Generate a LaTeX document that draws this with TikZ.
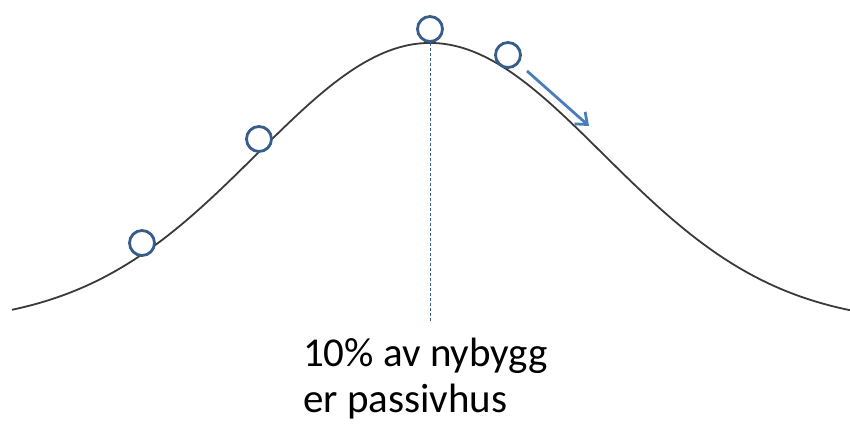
\documentclass[tikz,border=0pt]{standalone}
\usepackage{fontspec}
\setmainfont{Carlito}
\usepackage{tikz}
\usetikzlibrary{arrows.meta}

\definecolor{ballblue}{HTML}{385D8A}
\definecolor{arrowblue}{HTML}{4A7EBB}
\definecolor{curvegray}{HTML}{3A3A3A}

\begin{document}
\begin{tikzpicture}[x=1pt,y=-1pt,
    ball/.style={circle,draw=ballblue,line width=2.8pt,fill=white,minimum size=25pt,inner sep=0pt},
    bell/.style={curvegray,line width=1.8pt},
    push/.style={arrowblue,line width=2.8pt,-{Straight Barb[length=10pt,width=16pt]}},
    mid/.style={ballblue,line width=0.8pt,dash pattern=on 3pt off 2pt}]
    \useasboundingbox (0,0) rectangle (850,425);

    % the curve
    \draw[bell] plot[domain=12:850,samples=120,smooth]
        ({\x},{325-282*exp(-0.5*((\x-430)/173)^2)});

    % middle of the curve
    \coordinate (top) at (430,43);
    \coordinate (foot) at (430,322);
    \draw[mid] (top) -- (foot);

    % the balls
    \node[ball] (b1) at (142,243) {};
    \node[ball] (b2) at (259,139) {};
    \node[ball] (b3) at (430,29) {};
    \node[ball] (b4) at (508,55) {};

    \coordinate (go) at (527,71);
    \coordinate (stop) at (589,126);
    \draw[push] (go) -- (stop);

    \node[anchor=north west,align=left,inner sep=0pt,
          font=\fontsize{41}{46}\selectfont] (txt) at (303,338)
          {10\% av nybygg\\er passivhus};
\end{tikzpicture}
\end{document}
